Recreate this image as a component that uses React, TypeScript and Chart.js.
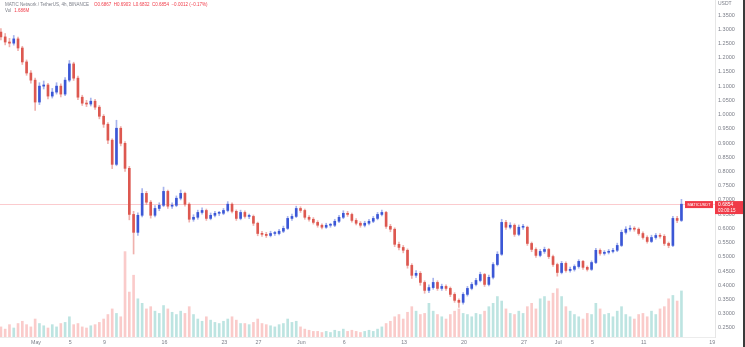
import React, { useEffect, useRef } from 'react';
import { Chart, registerables } from 'chart.js';

Chart.register(...registerables);

// ---- data (12h candles, x = days relative to May 1) ----
const candleStartDay = -4.1;
const candleStepDays = 0.5;
const firstOpen = 1.29;

const closes = [
  1.273, 1.255, 1.251, 1.266, 1.234, 1.185, 1.146, 1.121, 1.044, 1.100,
  1.104, 1.065, 1.079, 1.100, 1.072, 1.121, 1.178, 1.128, 1.061, 1.040,
  1.037, 1.047, 1.026, 0.994, 0.966, 0.910, 0.825, 0.952, 0.899, 0.811,
  0.649, 0.586, 0.646, 0.723, 0.692, 0.646, 0.670, 0.681, 0.730, 0.678,
  0.681, 0.706, 0.723, 0.685, 0.632, 0.639, 0.656, 0.663, 0.635, 0.646,
  0.653, 0.653, 0.663, 0.685, 0.660, 0.635, 0.656, 0.642, 0.642, 0.618,
  0.582, 0.579, 0.575, 0.582, 0.582, 0.590, 0.600, 0.635, 0.642, 0.670,
  0.663, 0.639, 0.632, 0.621, 0.611, 0.604, 0.611, 0.611, 0.625, 0.639,
  0.653, 0.649, 0.628, 0.618, 0.611, 0.618, 0.625, 0.635, 0.649, 0.656,
  0.607, 0.597, 0.544, 0.533, 0.523, 0.470, 0.435, 0.442, 0.410, 0.382,
  0.392, 0.410, 0.389, 0.396, 0.389, 0.368, 0.347, 0.340, 0.368, 0.389,
  0.403, 0.417, 0.438, 0.403, 0.428, 0.473, 0.509, 0.621, 0.604, 0.611,
  0.579, 0.604, 0.604, 0.547, 0.526, 0.505, 0.519, 0.526, 0.501, 0.473,
  0.445, 0.477, 0.452, 0.456, 0.466, 0.484, 0.463, 0.456, 0.480, 0.523,
  0.512, 0.516, 0.519, 0.523, 0.540, 0.586, 0.597, 0.600, 0.597, 0.582,
  0.568, 0.554, 0.568, 0.575, 0.572, 0.547, 0.540, 0.635, 0.628, 0.685,
];

const highs = [
  1.302, 1.285, 1.268, 1.278, 1.272, 1.240, 1.192, 1.155, 1.128, 1.112,
  1.118, 1.110, 1.092, 1.112, 1.108, 1.130, 1.190, 1.184, 1.135, 1.068,
  1.050, 1.058, 1.054, 1.032, 1.000, 0.972, 0.915, 0.980, 0.958, 0.905,
  0.818, 0.660, 0.655, 0.740, 0.730, 0.698, 0.680, 0.690, 0.745, 0.735,
  0.690, 0.714, 0.735, 0.728, 0.690, 0.648, 0.664, 0.672, 0.668, 0.654,
  0.660, 0.660, 0.670, 0.694, 0.690, 0.665, 0.664, 0.662, 0.650, 0.647,
  0.622, 0.590, 0.586, 0.590, 0.590, 0.597, 0.608, 0.642, 0.650, 0.678,
  0.676, 0.668, 0.645, 0.638, 0.627, 0.616, 0.618, 0.618, 0.632, 0.646,
  0.662, 0.660, 0.654, 0.634, 0.624, 0.625, 0.632, 0.642, 0.656, 0.664,
  0.660, 0.614, 0.602, 0.552, 0.540, 0.528, 0.476, 0.452, 0.448, 0.416,
  0.402, 0.425, 0.416, 0.404, 0.402, 0.394, 0.374, 0.352, 0.374, 0.396,
  0.410, 0.424, 0.446, 0.442, 0.436, 0.480, 0.518, 0.632, 0.628, 0.620,
  0.616, 0.612, 0.614, 0.608, 0.552, 0.532, 0.526, 0.534, 0.530, 0.506,
  0.478, 0.484, 0.482, 0.464, 0.472, 0.490, 0.488, 0.468, 0.486, 0.530,
  0.528, 0.522, 0.526, 0.530, 0.548, 0.594, 0.606, 0.610, 0.606, 0.602,
  0.588, 0.574, 0.576, 0.582, 0.582, 0.578, 0.552, 0.642, 0.642, 0.702,
];

const lows = [
  1.262, 1.245, 1.238, 1.244, 1.225, 1.176, 1.138, 1.110, 1.015, 1.035,
  1.090, 1.055, 1.058, 1.072, 1.062, 1.066, 1.115, 1.120, 1.052, 1.032,
  1.028, 1.030, 1.018, 0.985, 0.955, 0.898, 0.810, 0.820, 0.890, 0.800,
  0.630, 0.510, 0.575, 0.640, 0.684, 0.636, 0.640, 0.662, 0.676, 0.670,
  0.670, 0.676, 0.700, 0.678, 0.622, 0.625, 0.632, 0.650, 0.628, 0.630,
  0.640, 0.645, 0.648, 0.658, 0.654, 0.628, 0.630, 0.636, 0.634, 0.610,
  0.574, 0.572, 0.568, 0.570, 0.575, 0.577, 0.585, 0.596, 0.628, 0.638,
  0.656, 0.632, 0.625, 0.615, 0.604, 0.598, 0.600, 0.604, 0.606, 0.620,
  0.634, 0.642, 0.622, 0.612, 0.604, 0.605, 0.612, 0.620, 0.630, 0.644,
  0.600, 0.588, 0.536, 0.524, 0.514, 0.460, 0.424, 0.428, 0.400, 0.372,
  0.374, 0.386, 0.382, 0.382, 0.382, 0.360, 0.340, 0.322, 0.334, 0.362,
  0.384, 0.398, 0.412, 0.396, 0.398, 0.422, 0.468, 0.505, 0.596, 0.598,
  0.572, 0.574, 0.596, 0.540, 0.518, 0.498, 0.500, 0.512, 0.494, 0.466,
  0.432, 0.440, 0.446, 0.446, 0.450, 0.460, 0.456, 0.450, 0.452, 0.476,
  0.506, 0.506, 0.510, 0.514, 0.518, 0.536, 0.580, 0.590, 0.590, 0.576,
  0.562, 0.548, 0.550, 0.562, 0.566, 0.540, 0.532, 0.536, 0.620, 0.624,
];

const volumes = [
  9, 7, 11, 8, 12, 14, 11, 9, 16, 12,
  10, 8, 11, 9, 12, 13, 18, 11, 12, 9,
  8, 10, 11, 13, 16, 20, 25, 21, 18, 76,
  40, 55, 34, 30, 25, 27, 23, 21, 28, 25,
  22, 20, 23, 21, 27, 20, 16, 14, 18, 15,
  13, 12, 14, 16, 18, 15, 12, 12, 11, 13,
  16, 12, 11, 10, 9, 11, 12, 16, 13, 14,
  9, 7, 6, 5, 5, 4, 5, 4, 6, 5,
  7, 5, 6, 5, 4, 5, 6, 5, 7, 9,
  12, 14, 18, 20, 16, 22, 27, 23, 20, 21,
  30, 23, 20, 18, 16, 20, 23, 25, 21, 20,
  18, 21, 20, 23, 27, 30, 36, 32, 25, 21,
  20, 23, 21, 27, 30, 25, 34, 36, 32, 39,
  43, 36, 27, 23, 20, 18, 16, 21, 20, 30,
  25, 20, 21, 18, 23, 27, 20, 18, 16, 20,
  21, 18, 23, 20, 25, 27, 34, 37, 32, 41,
];

const tickDays = [0, 4, 8, 15, 22, 26, 31, 36, 43, 50, 57, 61, 65, 71, 79];
const tickLabels = ['May', '5', '9', '16', '23', '27', 'Jun', '6', '13', '20', '27', 'Jul', '5', '11', '19'];
const priceTicks = [
  0.25, 0.3, 0.35, 0.4, 0.45, 0.5, 0.55, 0.6, 0.65, 0.7, 0.75, 0.8,
  0.85, 0.9, 0.95, 1.0, 1.05, 1.1, 1.15, 1.2, 1.25, 1.3, 1.35,
];

const lastPrice = 0.6854;
const headerTitle = 'MATIC Network / TetherUS, 4h, BINANCE';
const headerOHLC = 'O0.6867  H0.6903  L0.6832  C0.6854  \u22120.0012 (\u22120.17%)';
const volLabel = 'Vol';
const volValue = '1.686M';
const symbolLabel = 'MATICUSDT';
const countdown = '03:00:15';
const currencyLabel = 'USDT';

// ---- styles ----
const UP = '#3b57d6';
const DOWN = '#dd5850';
const UP_WICK = 'rgba(80,105,220,0.5)';
const DOWN_WICK = 'rgba(225,100,92,0.5)';
const VOL_UP = 'rgba(38,166,154,0.3)';
const VOL_DOWN = 'rgba(239,83,80,0.3)';
const TEXT = '#7b7e88';
const FONT = '"Liberation Sans", Arial, sans-serif';
const RED = '#f03a47';

const zeroPad = (s: any) => {
  s.paddingTop = 0;
  s.paddingBottom = 0;
  s.paddingLeft = 0;
  s.paddingRight = 0;
};

export default function App() {
  const ref = useRef<HTMLCanvasElement | null>(null);

  useEffect(() => {
    document.body.style.margin = '0';
    const canvas = ref.current;
    if (!canvas) return;

    const days = closes.map((_, i) => candleStartDay + i * candleStepDays);
    const opens = closes.map((_, i) => (i === 0 ? firstOpen : closes[i - 1]));
    const up = closes.map((c, i) => c >= opens[i]);

    const overlay = {
      id: 'tvOverlay',
      beforeDatasetsDraw(chart: any) {
        const { ctx, chartArea } = chart;
        const y = chart.scales.y.getPixelForValue(lastPrice);
        ctx.save();
        ctx.strokeStyle = 'rgba(240,70,80,0.28)';
        ctx.lineWidth = 1;
        ctx.beginPath();
        ctx.moveTo(chartArea.left, Math.round(y) + 0.5);
        ctx.lineTo(chartArea.right, Math.round(y) + 0.5);
        ctx.stroke();
        ctx.restore();
      },
      afterDraw(chart: any) {
        const { ctx, chartArea } = chart;
        const y = chart.scales.y.getPixelForValue(lastPrice);
        ctx.save();
        ctx.textBaseline = 'middle';
        ctx.textAlign = 'left';
        ctx.font = `4.5px ${FONT}`;
        ctx.fillStyle = TEXT;
        ctx.fillText(headerTitle, 5, 5);
        const w = ctx.measureText(headerTitle).width;
        ctx.fillStyle = RED;
        ctx.fillText(headerOHLC, 5 + w + 5, 5);
        ctx.fillStyle = TEXT;
        ctx.fillText(volLabel, 5, 11);
        ctx.fillStyle = RED;
        ctx.fillText(volValue, 5 + ctx.measureText(volLabel).width + 3, 11);

        ctx.font = `5px ${FONT}`;
        ctx.fillStyle = TEXT;
        ctx.fillText(currencyLabel, chartArea.right + 3, 4);

        ctx.fillStyle = RED;
        ctx.fillRect(chartArea.right - 30, y - 3, 28, 7);
        ctx.fillStyle = '#fff';
        ctx.font = `4px ${FONT}`;
        ctx.textAlign = 'center';
        ctx.fillText(symbolLabel, chartArea.right - 16, y + 0.5);

        ctx.fillStyle = RED;
        ctx.fillRect(chartArea.right, y - 3, 28, 13);
        ctx.fillStyle = '#fff';
        ctx.font = `5px ${FONT}`;
        ctx.textAlign = 'left';
        ctx.fillText(lastPrice.toFixed(4), chartArea.right + 3, y + 0.5);
        ctx.font = `4.5px ${FONT}`;
        ctx.fillText(countdown, chartArea.right + 3, y + 6.5);

        ctx.fillStyle = '#3a3a3a';
        ctx.fillRect(743, 0, 2, 347);
        ctx.restore();
      },
    };

    const chart = new Chart(canvas, {
      type: 'bar',
      data: {
        datasets: [
          {
            label: 'body',
            data: days.map((d, i) => ({ x: d, y: [opens[i], closes[i]] })) as any,
            backgroundColor: up.map((u) => (u ? UP : DOWN)),
            barThickness: 2,
            minBarLength: 1,
            grouped: false,
            yAxisID: 'y',
          } as any,
          {
            label: 'wick',
            data: days.map((d, i) => ({ x: d, y: [lows[i], highs[i]] })) as any,
            backgroundColor: up.map((u) => (u ? UP_WICK : DOWN_WICK)),
            barThickness: 1,
            grouped: false,
            yAxisID: 'y',
          } as any,
          {
            label: 'volume',
            data: days.map((d, i) => ({ x: d, y: volumes[i] })) as any,
            backgroundColor: up.map((u) => (u ? VOL_UP : VOL_DOWN)),
            barThickness: 2,
            grouped: false,
            yAxisID: 'yv',
          } as any,
        ],
      },
      options: {
        animation: false,
        responsive: false,
        devicePixelRatio: 1,
        layout: { padding: 0 },
        plugins: { legend: { display: false }, tooltip: { enabled: false } },
        scales: {
          x: {
            type: 'linear',
            offset: false,
            min: -4.206,
            max: 79.32,
            grid: { display: false, drawTicks: false },
            border: { display: true, color: '#ececec' },
            ticks: {
              padding: 2,
              autoSkip: false,
              maxRotation: 0,
              color: TEXT,
              font: { size: 5.3, family: FONT },
              callback: (v: any) => {
                const k = tickDays.indexOf(Number(v));
                return k >= 0 ? tickLabels[k] : '';
              },
            },
            afterBuildTicks: (s: any) => {
              s.ticks = tickDays.map((v) => ({ value: v }));
            },
            afterFit: (s: any) => {
              s.height = 10;
              zeroPad(s);
            },
          },
          y: {
            type: 'linear',
            position: 'right',
            min: 0.2182,
            max: 1.4027,
            grid: { display: false, drawTicks: false },
            border: { display: true, color: '#e6e6e6' },
            ticks: {
              padding: 3,
              color: TEXT,
              font: { size: 5.5, family: FONT },
              callback: (v: any) => Number(v).toFixed(4),
            },
            afterBuildTicks: (s: any) => {
              s.ticks = priceTicks.map((v) => ({ value: v }));
            },
            afterFit: (s: any) => {
              s.width = 30;
              zeroPad(s);
            },
          },
          yv: {
            type: 'linear',
            display: false,
            min: 0,
            max: 300,
          },
        },
      } as any,
      plugins: [overlay],
    });

    return () => chart.destroy();
  }, []);

  return (
    <div style={{ width: 745, height: 347, background: '#fff' }}>
      <canvas ref={ref} width={745} height={347} style={{ display: 'block' }} />
    </div>
  );
}
